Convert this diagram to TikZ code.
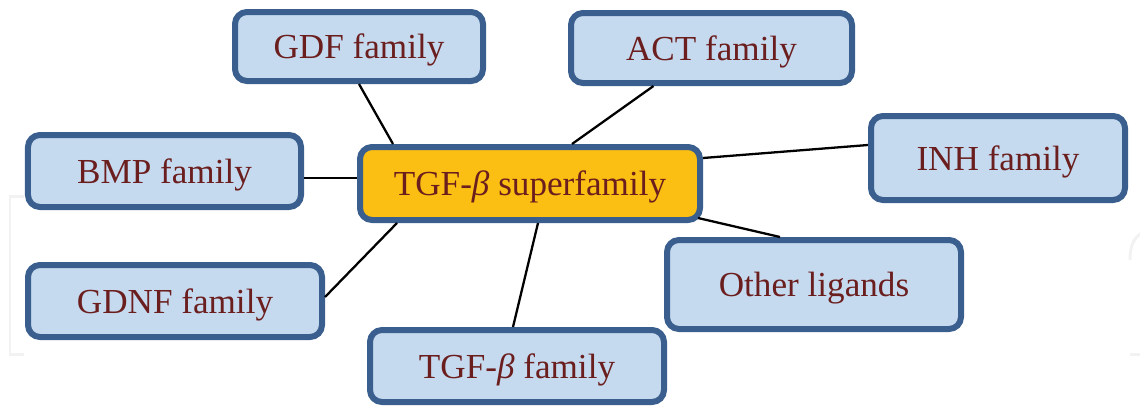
\documentclass[tikz,border=0pt]{standalone}
\usepackage{fontspec}
\setmainfont{Liberation Serif}
\usepackage{tikz}

\definecolor{boxline}{HTML}{3A5F8E}
\definecolor{boxfill}{HTML}{C6DAEF}
\definecolor{hubfill}{HTML}{FBBE12}
\definecolor{boxtext}{HTML}{6B1E1E}

\tikzset{
  family/.style={draw=boxline, fill=boxfill, line width=0.12cm, rounded corners=0.24cm,
    text=boxtext, font=\fontsize{20}{24}\selectfont, align=center, inner sep=0pt, text depth=0pt},
  hub/.style={family, fill=hubfill},
  link/.style={line width=1.3pt, black}
}

\begin{document}
\begin{tikzpicture}
\useasboundingbox (0,0) rectangle (22.8,8.1);
\draw[gray!10, line width=0.06cm] (0.48,4.18) -- (0.2,4.18) -- (0.2,1.02) -- (0.48,1.02) ;
\draw[gray!10, line width=0.06cm] (22.85,1.02) -- (22.6,1.02) ;
\draw[gray!10, line width=0.06cm] (22.6,2.9) to[out=90,in=210] (22.85,3.45) ;

\node[hub, minimum width=6.80cm, minimum height=1.46cm] (super) at (10.60,4.43) {TGF-\textit{β} superfamily} ;
\node[family, minimum width=4.96cm, minimum height=1.38cm] (gdf) at (7.18,7.17) {GDF family} ;
\node[family, minimum width=5.62cm, minimum height=1.40cm] (act) at (14.23,7.14) {ACT family} ;
\node[family, minimum width=5.46cm, minimum height=1.44cm] (bmp) at (3.29,4.68) {BMP family} ;
\node[family, minimum width=5.08cm, minimum height=1.68cm] (inh) at (19.96,4.94) {INH family} ;
\node[family, minimum width=5.88cm, minimum height=1.78cm] (other) at (16.28,2.41) {Other ligands} ;
\node[family, minimum width=5.88cm, minimum height=1.44cm] (gdnf) at (3.50,2.08) {GDNF family} ;
\node[family, minimum width=5.88cm, minimum height=1.44cm] (tgfb) at (10.34,0.78) {TGF-\textit{β} family} ;

\draw[link] (gdf.south) -- ([xshift=0.72cm]super.north west) ;
\draw[link] ([xshift=-1.16cm]act.south) -- ([xshift=0.84cm]super.north) ;
\draw[link] ([yshift=-0.14cm]bmp.east) -- ([yshift=-0.14cm]bmp.east -| super.west) ;
\draw[link] ([yshift=0.51cm]super.east) -- ([yshift=0.26cm]inh.west) ;
\draw[link] ([xshift=-0.1cm,yshift=0.1cm]super.south east) -- ([xshift=-0.68cm]other.north) ;
\draw[link] ([xshift=0.16cm]super.south) -- ([xshift=-0.08cm]tgfb.north) ;
\draw[link] ([xshift=0.8cm]super.south west) -- ([yshift=0.08cm]gdnf.east) ;
\end{tikzpicture}
\end{document}
